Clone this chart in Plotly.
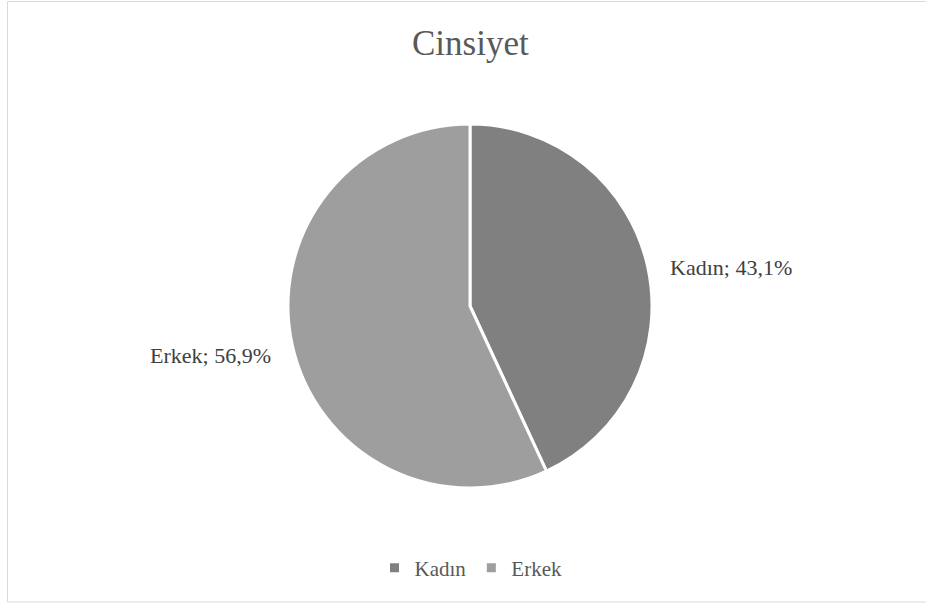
import plotly.graph_objects as go

# Gender distribution
categories = ["Kadın", "Erkek"]
shares = [43.1, 56.9]
colors = ["#808080", "#9e9e9e"]
title_text = "Cinsiyet"

W, H = 926, 603
SERIF = "Liberation Serif"


def fmt(v):
    return f"{v:.1f}".replace(".", ",") + "%"


# pie placement in pixels
cx, cy, r = 470, 306, 182

fig = go.Figure(
    go.Pie(
        labels=categories,
        values=shares,
        sort=False,
        direction="clockwise",
        rotation=0,
        marker=dict(colors=colors, line=dict(color="white", width=3)),
        textinfo="none",
        hoverinfo="label+percent",
        domain=dict(
            x=[(cx - r) / W, (cx + r) / W],
            y=[(H - cy - r) / H, (H - cy + r) / H],
        ),
    )
)

# data labels beside the slices
label_pos = [
    dict(x=668 / W, y=(H - 267) / H, xanchor="left"),
    dict(x=273 / W, y=(H - 355) / H, xanchor="right"),
]
annotations = []
for cat, val, pos in zip(categories, shares, label_pos):
    annotations.append(
        dict(
            text=f"{cat}; {fmt(val)}",
            x=pos["x"], y=pos["y"], xref="paper", yref="paper",
            xanchor=pos["xanchor"], yanchor="middle", showarrow=False,
            font=dict(family=SERIF, size=22, color="#404040"),
        )
    )

annotations.append(
    dict(
        text=title_text, x=470 / W, y=(H - 43) / H, xref="paper", yref="paper",
        xanchor="center", yanchor="middle", showarrow=False,
        font=dict(family=SERIF, size=35, color="#595959"),
    )
)

fig.update_layout(
    width=W,
    height=H,
    margin=dict(l=0, r=0, t=0, b=0),
    paper_bgcolor="white",
    plot_bgcolor="white",
    font=dict(family=SERIF),
    showlegend=True,
    legend=dict(
        orientation="h",
        x=471 / W, xanchor="center",
        y=(H - 568) / H, yanchor="middle",
        font=dict(family=SERIF, size=21, color="#595959"),
        itemwidth=30,
        bgcolor="rgba(0,0,0,0)",
    ),
    annotations=annotations,
    shapes=[
        dict(
            type="rect", xref="paper", yref="paper",
            x0=7.5 / W, x1=1.01, y0=(H - 602) / H, y1=(H - 1.5) / H,
            line=dict(color="#d9d9d9", width=1), fillcolor="rgba(0,0,0,0)",
            layer="below",
        )
    ],
)

fig.write_html("out.html")
